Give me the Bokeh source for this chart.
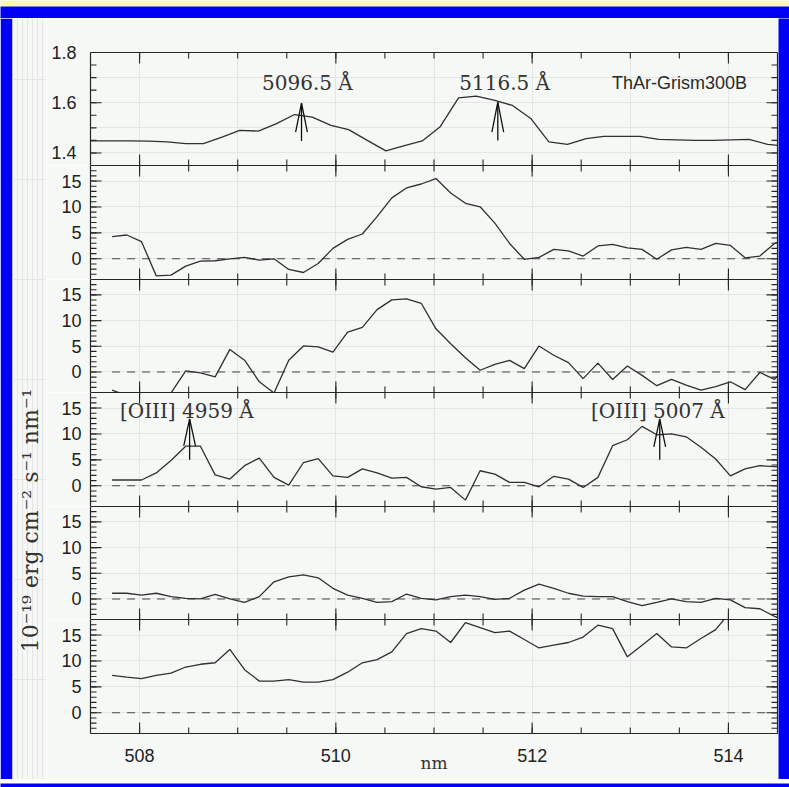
import math
from bokeh.plotting import figure
from bokeh.layouts import column, row
from bokeh.models import (LinearAxis, FixedTicker, Range1d, Label, CustomJSTickFormatter)
from bokeh.embed import file_html
from bokeh.resources import INLINE

# ---------------- data ----------------
# ThAr arc (Grism 300B) - top panel
thar_wl = [507.35, 507.54, 507.72, 507.91, 508.09, 508.28, 508.47, 508.65, 508.84, 509.02,
           509.21, 509.39, 509.58, 509.76, 509.95, 510.13, 510.32, 510.51, 510.69, 510.88,
           511.06, 511.25, 511.43, 511.62, 511.80, 511.99, 512.17, 512.36, 512.55, 512.73,
           512.92, 513.10, 513.29, 513.47, 513.66, 513.84, 514.03, 514.21, 514.40, 514.58]
thar_val = [1.448, 1.448, 1.448, 1.448, 1.447, 1.444, 1.437, 1.437, 1.463, 1.490,
            1.487, 1.516, 1.553, 1.543, 1.510, 1.493, 1.450, 1.408, 1.428, 1.448,
            1.503, 1.619, 1.626, 1.609, 1.589, 1.536, 1.444, 1.434, 1.457, 1.466,
            1.466, 1.466, 1.454, 1.452, 1.450, 1.450, 1.452, 1.454, 1.434, 1.428]

# wavelength grid of the extracted spectra (nm)
wl = [507.72, 507.87, 508.02, 508.17, 508.32, 508.47, 508.62, 508.77, 508.92, 509.07,
      509.22, 509.37, 509.52, 509.67, 509.82, 509.97, 510.12, 510.27, 510.42, 510.57,
      510.72, 510.87, 511.02, 511.17, 511.32, 511.47, 511.62, 511.77, 511.92, 512.07,
      512.22, 512.37, 512.52, 512.67, 512.82, 512.97, 513.12, 513.27, 513.42, 513.57,
      513.72, 513.87, 514.02, 514.17, 514.32, 514.47, 514.62]

flux_1 = [4.26, 4.59, 3.30, -3.30, -3.15, -1.41, -0.45, -0.38, 0.00, 0.26,
          -0.26, 0.00, -2.06, -2.65, -0.91, 2.00, 3.75, 4.78, 8.12, 11.75,
          13.66, 14.43, 15.48, 12.71, 10.70, 10.03, 6.88, 2.96, -0.10, 0.26,
          1.82, 1.53, 0.53, 2.48, 2.77, 2.10, 1.82, -0.10, 1.72, 2.20,
          1.82, 2.96, 2.58, 0.19, 0.53, 2.96, 4.00]
flux_2 = [-3.53, -4.60, -5.70, -5.30, -4.10, 0.19, -0.19, -0.96, 4.39, 2.29,
          -1.91, -4.10, 2.29, 5.06, 4.87, 3.88, 7.74, 8.69, 12.13, 14.04,
          14.23, 13.37, 8.40, 5.49, 2.77, 0.33, 1.49, 2.26, 0.65, 5.06,
          3.25, 1.82, -1.29, 1.72, -1.48, 1.15, -0.67, -2.67, -1.43, -2.58,
          -3.53, -2.87, -1.91, -3.44, -0.10, -1.43, 2.00]
flux_3 = [1.11, 1.11, 1.11, 2.48, 4.87, 7.64, 7.64, 2.10, 1.29, 3.88,
          5.35, 1.62, 0.13, 4.49, 5.25, 1.91, 1.62, 3.25, 2.48, 1.49,
          1.62, -0.19, -0.64, -0.32, -2.77, 2.90, 2.26, 0.65, 0.65, -0.19,
          1.82, 1.29, -0.32, 1.62, 7.74, 8.88, 11.46, 9.84, 10.03, 9.45,
          7.45, 5.16, 1.91, 3.25, 3.88, 3.68, 3.70]
flux_4 = [1.11, 1.11, 0.76, 1.11, 0.45, 0.13, 0.00, 0.91, 0.00, -0.65,
          0.45, 3.34, 4.30, 4.68, 4.11, 2.07, 0.76, 0.13, -0.65, -0.52,
          0.96, 0.13, -0.19, 0.45, 0.76, 0.45, -0.07, 0.13, 1.72, 2.90,
          2.07, 1.11, 0.57, 0.45, 0.45, -0.52, -1.29, -0.65, 0.00, -0.52,
          -0.65, 0.13, -0.19, -1.68, -1.91, -3.40, -4.50]
flux_5 = [7.23, 6.88, 6.59, 7.23, 7.64, 8.83, 9.36, 9.65, 12.22, 8.31,
          6.11, 6.11, 6.40, 5.92, 5.92, 6.40, 7.83, 9.65, 10.27, 11.75,
          15.28, 16.24, 15.76, 13.56, 17.38, 16.43, 15.47, 15.76, 14.13, 12.51,
          13.04, 13.56, 14.61, 16.90, 16.24, 10.79, 13.04, 15.28, 12.70, 12.51,
          14.33, 16.04, 19.50, 21.00, 21.00, 22.00, 22.00]
spectra = [flux_1, flux_2, flux_3, flux_4, flux_5]

# tick values
x_major_ticks = [508, 510, 512, 514]
x_minor_ticks = [508.0, 508.5, 509.0, 509.5, 510.0, 510.5, 511.0, 511.5, 512.0, 512.5,
                 513.0, 513.5, 514.0]
thar_major_ticks = [1.4, 1.6, 1.8]
thar_minor_ticks = [1.40, 1.45, 1.50, 1.55, 1.60, 1.65, 1.70, 1.75]
flux_major_ticks = [0, 5, 10, 15]
flux_minor_ticks = [-3, -2, -1, 0, 1, 2, 3, 4, 5, 6, 7, 8, 9, 10, 11, 12, 13, 14, 15, 16, 17]

# line identifications: (wavelength nm, tail, barb, tip)
thar_lines_wl = [509.65, 511.65]
thar_lines_tail = [1.448, 1.450]
thar_lines_barb = [1.483, 1.483]
thar_lines_tip = [1.598, 1.602]
thar_line_labels = ["5096.5 Å", "5116.5 Å"]
thar_label_x = [509.71, 511.72]
thar_label_y = [1.677, 1.677]

oiii_wl = [508.51, 513.30]
oiii_tail = [5.0, 5.0]
oiii_barb = [7.7, 7.5]
oiii_tip = [12.9, 12.9]
oiii_labels = ["[OIII] 4959 Å", "[OIII] 5007 Å"]
oiii_label_x = [507.80, 512.60]
oiii_label_y = [14.5, 14.5]

# ---------------- style ----------------
BG = "#f5f8f5"
BLUE = "#0000f2"
YELLOW = "#fffaa8"
INK = "#262626"
LINE = "#303030"
SANS = "Liberation Sans"
SERIF = "DejaVu Serif"
FW = 687
FH = [113, 114, 113, 114, 113, 114]
TOP_B = 34
BOT_B = 46
LEFT_B = 44
MAJ_LEN = 11
MIN_LEN = 6
HEAD_HALF = 0.06   # nm, half width of arrow heads

X0, X1 = 507.5, 514.5


def blank():
    return CustomJSTickFormatter(code="return ''")


def style_axis(ax, labels=True, standoff=0):
    ax.major_tick_in = 0
    ax.major_tick_out = 0
    ax.minor_tick_in = 0
    ax.minor_tick_out = 0
    ax.axis_line_color = INK
    ax.axis_line_width = 1.2
    ax.major_tick_line_color = None
    ax.minor_tick_line_color = None
    if labels:
        ax.major_label_text_font = SANS
        ax.major_label_text_font_size = "18px"
        ax.major_label_text_color = "#222222"
        ax.major_label_standoff = standoff
    else:
        ax.formatter = blank()
        ax.major_label_text_font_size = "0px"
        ax.major_label_standoff = 0


def inward_ticks(p, y0, y1, fh, ymaj, ymin):
    # tick marks pointing into the frame on all four sides
    ux = (X1 - X0) / FW      # data units per pixel
    uy = (y1 - y0) / fh
    for ticks, ln in ((x_minor_ticks, MIN_LEN), (x_major_ticks, MAJ_LEN)):
        n = len(ticks)
        p.segment(x0=ticks, y0=[y0] * n, x1=ticks, y1=[y0 + ln * uy] * n,
                  line_color=INK, line_width=1.1)
        p.segment(x0=ticks, y0=[y1] * n, x1=ticks, y1=[y1 - ln * uy] * n,
                  line_color=INK, line_width=1.1)
    for ticks, ln in ((ymin, MIN_LEN), (ymaj, MAJ_LEN)):
        n = len(ticks)
        p.segment(x0=[X0] * n, y0=ticks, x1=[X0 + ln * ux] * n, y1=ticks,
                  line_color=INK, line_width=1.1)
        p.segment(x0=[X1] * n, y0=ticks, x1=[X1 - ln * ux] * n, y1=ticks,
                  line_color=INK, line_width=1.1)


def make_panel(i, y0, y1, yticks, ymaj, ymin, ylab_standoff):
    top = TOP_B if i == 0 else 0
    bottom = BOT_B if i == 5 else 0
    p = figure(frame_width=FW, frame_height=FH[i],
               x_range=Range1d(X0, X1), y_range=Range1d(y0, y1),
               output_backend="svg", toolbar_location=None,
               x_axis_location=None, y_axis_location=None,
               min_border_left=LEFT_B, min_border_right=1,
               min_border_top=top, min_border_bottom=bottom,
               background_fill_color=BG, border_fill_color=BG,
               outline_line_color=None)
    left = LinearAxis(ticker=FixedTicker(ticks=yticks))
    style_axis(left, labels=True, standoff=ylab_standoff)
    p.add_layout(left, "left")
    right = LinearAxis(ticker=FixedTicker(ticks=yticks))
    style_axis(right, labels=False)
    p.add_layout(right, "right")
    below = LinearAxis(ticker=FixedTicker(ticks=x_major_ticks))
    style_axis(below, labels=(i == 5), standoff=15)
    if i == 5:
        below.axis_label = "nm"
        below.axis_label_text_font = SERIF
        below.axis_label_text_font_size = "17px"
        below.axis_label_text_font_style = "normal"
        below.axis_label_text_color = "#333333"
        below.axis_label_standoff = -12
    p.add_layout(below, "below")
    above = LinearAxis(ticker=FixedTicker(ticks=x_major_ticks))
    style_axis(above, labels=False)
    p.add_layout(above, "above")
    inward_ticks(p, y0, y1, FH[i], ymaj, ymin)
    return p


def band(w, h, color, top=0, top_color=None):
    return figure(frame_width=w, frame_height=h, output_backend="svg", toolbar_location=None,
                  x_axis_location=None, y_axis_location=None,
                  min_border_left=0, min_border_right=0, min_border_top=top,
                  min_border_bottom=0, background_fill_color=color,
                  border_fill_color=top_color or color, outline_line_color=None)


panels = []

# top panel: arc lamp
p0 = make_panel(0, 1.35, 1.80, thar_major_ticks, thar_major_ticks, thar_minor_ticks, 14)
p0.line(thar_wl, thar_val, line_color=LINE, line_width=1.3)
p0.segment(x0=thar_lines_wl, y0=thar_lines_tail, x1=thar_lines_wl, y1=thar_lines_tip,
           line_color="#111111", line_width=1.3)
for w, b, t in zip(thar_lines_wl, thar_lines_barb, thar_lines_tip):
    p0.line([w - HEAD_HALF, w, w + HEAD_HALF], [b, t, b], line_color="#111111", line_width=1.3)
for txt, lx, ly in zip(thar_line_labels, thar_label_x, thar_label_y):
    p0.add_layout(Label(x=lx, y=ly, text=txt, text_align="center", text_baseline="middle",
                        text_font=SERIF, text_font_size="20px", text_color="#333333"))
p0.add_layout(Label(x=514.19, y=1.679, text="ThAr-Grism300B", text_align="right",
                    text_baseline="middle", text_font=SANS, text_font_size="18px",
                    text_color="#2a2a2a"))
panels.append(p0)

for j, flux in enumerate(spectra):
    i = j + 1
    p = make_panel(i, -4, 18, flux_major_ticks, flux_major_ticks, flux_minor_ticks, 9)
    p.line([wl[0], wl[-1]], [0, 0], line_color="#444444", line_width=1.1, line_dash="8 7")
    p.line(wl, flux, line_color=LINE, line_width=1.3)
    if i == 3:
        p.segment(x0=oiii_wl, y0=oiii_tail, x1=oiii_wl, y1=oiii_tip,
                  line_color="#111111", line_width=1.3)
        for w, b, t in zip(oiii_wl, oiii_barb, oiii_tip):
            p.line([w - HEAD_HALF, w, w + HEAD_HALF], [b, t, b], line_color="#111111",
                   line_width=1.3)
        for txt, lx, ly in zip(oiii_labels, oiii_label_x, oiii_label_y):
            p.add_layout(Label(x=lx, y=ly, text=txt, text_align="left",
                               text_baseline="middle", text_font=SERIF,
                               text_font_size="20px", text_color="#333333"))
    panels.append(p)

# y-axis title column (with the blue left border)
total_h = sum(FH) + TOP_B + BOT_B
lab = figure(frame_width=34, frame_height=total_h, x_range=Range1d(0, 34),
             y_range=Range1d(0, total_h), output_backend="svg", toolbar_location=None,
             x_axis_location=None, y_axis_location=None,
             min_border_left=12, min_border_right=0, min_border_top=0, min_border_bottom=0,
             background_fill_color=BG, border_fill_color=BLUE, outline_line_color=None)
lab.add_layout(Label(x=18, y=259, text="10⁻¹⁹ erg cm⁻² s⁻¹ nm⁻¹", angle=math.pi / 2,
                     text_align="center", text_baseline="middle", text_font=SERIF,
                     text_font_size="22px", text_color="#333333"))

top_band = band(789, 12, BLUE, top=6, top_color=YELLOW)
right_band = band(11, total_h, BLUE)
bottom_band = band(789, 8, BLUE)

body = row(lab, column(*panels, spacing=0), right_band, spacing=0)
page = column(top_band, body, bottom_band, spacing=0)

open("out.html", "w").write(file_html(page, INLINE, title="ThAr-Grism300B spectra"))
